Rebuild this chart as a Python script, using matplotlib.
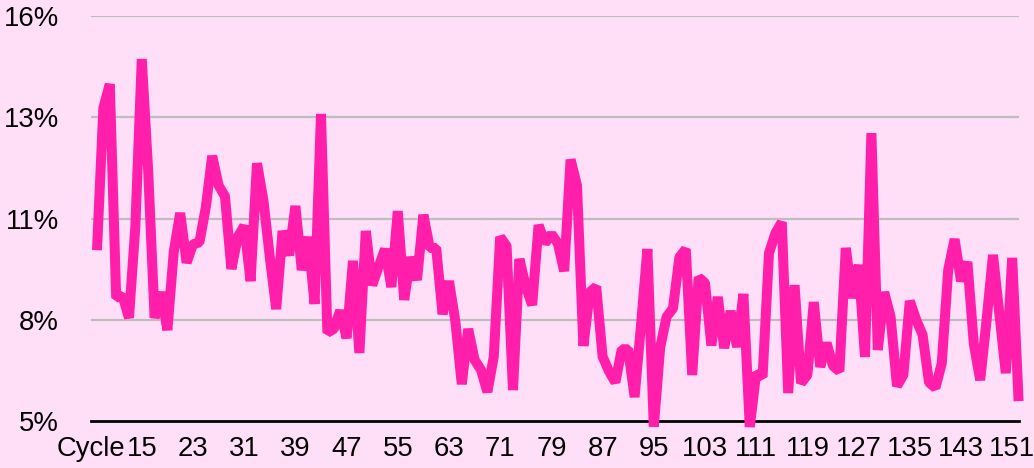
import numpy as np
import matplotlib
matplotlib.use("Agg")
import matplotlib.pyplot as plt

# cycles 8..152, one value per cycle (percent)
cycles = np.arange(8, 153)
rate = [
    9.64, 13.5, 14.15, 8.35, 8.4, 7.8, 10.3, 14.83, 11.8, 7.8,
    8.5, 7.47, 9.6, 10.65, 9.3, 9.8, 9.85, 10.8, 12.2, 11.4,
    11.1, 9.13, 10.0, 10.3, 8.8, 12.0, 11.0, 9.46, 8.04, 10.16,
    9.5, 10.84, 9.1, 10.0, 8.18, 13.34, 7.4, 7.5, 8.0, 7.25,
    9.35, 6.85, 10.16, 8.69, 9.19, 9.67, 8.64, 10.7, 8.29, 9.45,
    8.83, 10.6, 9.7, 9.7, 7.9, 8.8, 7.7, 6.0, 7.5, 6.66,
    6.39, 5.79, 6.75, 10.0, 9.75, 5.84, 9.4, 8.65, 8.15, 10.32,
    9.83, 10.08, 9.83, 9.07, 12.1, 11.4, 7.04, 8.5, 8.65, 6.75,
    6.35, 6.05, 6.95, 6.95, 5.65, 7.6, 9.67, 4.85, 7.0, 7.83,
    8.06, 9.45, 9.67, 6.25, 8.9, 8.75, 7.05, 8.37, 6.98, 7.99,
    7.01, 8.45, 4.84, 6.3, 6.2, 9.56, 10.1, 10.4, 5.76, 8.69,
    6.03, 6.25, 8.23, 6.47, 7.12, 6.5, 6.35, 9.7, 8.34, 9.24,
    6.74, 12.82, 6.93, 8.5, 7.83, 5.95, 6.25, 8.26, 7.75, 7.34,
    6.05, 5.9, 6.57, 9.1, 9.94, 8.8, 9.32, 7.1, 6.11, 7.74,
    9.51, 7.9, 6.3, 9.43, 5.54,
]

x_ticks = np.arange(7, 152, 8)
x_labels = ["Cycle"] + [str(c) for c in x_ticks[1:]]
y_ticks = [5, 7.75, 10.5, 13.25, 16]
y_labels = ["5%", "8%", "11%", "13%", "16%"]

bg = "#FFDFF8"
plt.rcParams["font.family"] = ["Liberation Sans", "DejaVu Sans"]

fig = plt.figure(figsize=(10.34, 4.68), dpi=100, facecolor=bg)
ax = fig.add_axes([0.0876, 0.1004, 0.8975, 0.8654], facecolor=bg)

for y in y_ticks[1:]:
    ax.axhline(y, color="#BDBDBD", lw=1.6, zorder=1)
ax.axhline(5, color="black", lw=2.0, zorder=2, clip_on=False)

ax.plot(cycles, rate, color="#FF1FAA", lw=7.2, solid_joinstyle="bevel",
        solid_capstyle="butt", zorder=3, clip_on=False)

ax.set_xlim(7, 152)
ax.set_ylim(5, 16)
ax.set_xticks(x_ticks)
ax.set_xticklabels(x_labels)
ax.set_yticks(y_ticks)
ax.set_yticklabels(y_labels)
ax.tick_params(axis="both", length=0, labelsize=19.8, colors="black")
ax.tick_params(axis="y", pad=23)
ax.tick_params(axis="x", pad=11)
for s in ax.spines.values():
    s.set_visible(False)

fig.savefig("out.png", dpi=100, facecolor=bg)
